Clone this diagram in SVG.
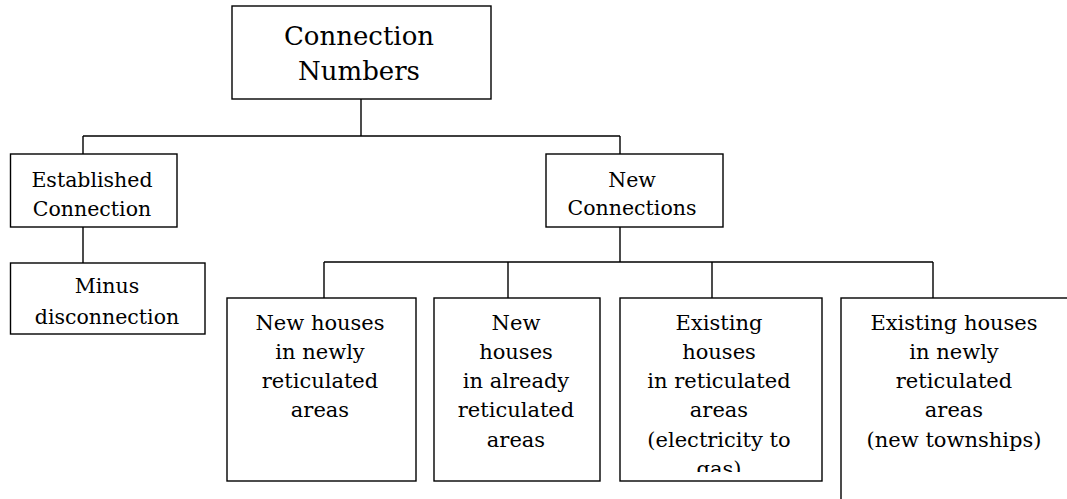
<svg xmlns="http://www.w3.org/2000/svg" width="1067" height="499" viewBox="0 0 1067 499">
<style>
.box{fill:#fff;stroke:#000;stroke-width:1.4}
.ln{fill:none;stroke:#000;stroke-width:1.4}
text{font-family:"DejaVu Serif","Liberation Serif",serif;fill:#000;text-anchor:middle}
.t1{font-size:26px}
.t2{font-size:20.5px}
.t3{font-size:21px}
</style>
<defs>
<clipPath id="c3"><rect x="620" y="298" width="202" height="174"/></clipPath>
</defs>
<rect width="1067" height="499" fill="#fff"/>
<g id="connectors">
<path class="ln" d="M361,99V136M83,136H620M83,136V154M620,136V154M83,227V263M620,227V262M324,262H933M324,262V298M508,262V298M712,262V298M933,262V298"/>
</g>
<g id="root">
<rect class="box" x="232" y="6" width="259" height="93"/>
<text class="t1" x="359" y="45">Connection</text>
<text class="t1" x="359" y="80">Numbers</text>
</g>
<g id="established">
<rect class="box" x="10.5" y="154" width="166.5" height="73"/>
<text class="t2" x="92" y="187">Established</text>
<text class="t2" x="92" y="216">Connection</text>
</g>
<g id="minus">
<rect class="box" x="10.5" y="263" width="194.5" height="71"/>
<text class="t2" x="107" y="293">Minus</text>
<text class="t2" x="107" y="324">disconnection</text>
</g>
<g id="newconn">
<rect class="box" x="546" y="154" width="177" height="73"/>
<text class="t2" x="632" y="187">New</text>
<text class="t2" x="632" y="215">Connections</text>
</g>
<g id="n1">
<rect class="box" x="227" y="298" width="189" height="183"/>
<text class="t3" x="320" y="330">New houses</text>
<text class="t3" x="320" y="359">in newly</text>
<text class="t3" x="320" y="388">reticulated</text>
<text class="t3" x="320" y="417">areas</text>
</g>
<g id="n2">
<rect class="box" x="434" y="298" width="166" height="183"/>
<text class="t3" x="516" y="330">New</text>
<text class="t3" x="516" y="359">houses</text>
<text class="t3" x="516" y="388">in already</text>
<text class="t3" x="516" y="417">reticulated</text>
<text class="t3" x="516" y="447">areas</text>
</g>
<g id="n3">
<rect class="box" x="620" y="298" width="202" height="183"/>
<g clip-path="url(#c3)">
<text class="t3" x="719" y="330">Existing</text>
<text class="t3" x="719" y="359">houses</text>
<text class="t3" x="719" y="388">in reticulated</text>
<text class="t3" x="719" y="417">areas</text>
<text class="t3" x="719" y="447">(electricity to</text>
<text class="t3" x="719" y="476">gas)</text>
</g>
</g>
<g id="n4">
<rect class="box" x="841" y="298" width="240" height="220"/>
<text class="t3" x="954" y="330">Existing houses</text>
<text class="t3" x="954" y="359">in newly</text>
<text class="t3" x="954" y="388">reticulated</text>
<text class="t3" x="954" y="417">areas</text>
<text class="t3" x="954" y="447">(new townships)</text>
</g>
</svg>
